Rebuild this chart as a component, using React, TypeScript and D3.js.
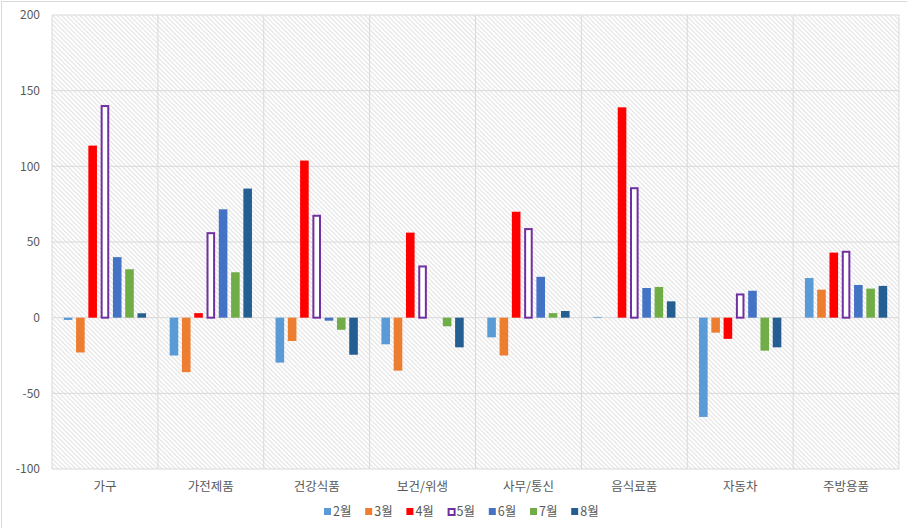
import React from "react";
import * as d3 from "d3";

const categories = ["가구", "가전제품", "건강식품", "보건/위생", "사무/통신", "음식료품", "자동차", "주방용품"];
const seriesNames = ["2월", "3월", "4월", "5월", "6월", "7월", "8월"];
const s2 = [-1.5, -25, -29.7, -17.6, -13, 0.5, -65.6, 26.2];
const s3 = [-23, -36, -15.4, -35, -25, 0, -9.9, 18.5];
const s4 = [113.7, 3, 103.8, 56.2, 70, 139, -14, 43];
const s5 = [140.5, 56.5, 68, 34.5, 59.2, 86.2, 16, 44.2];
const s6 = [40, 71.6, -2, 0, 27, 19.6, 17.8, 21.6];
const s7 = [32, 30, -8, -5.7, 3, 20.3, -21.8, 19.2];
const s8 = [2.9, 85.3, -24.5, -19.6, 4.4, 10.8, -19.6, 21];
const seriesValues = [s2, s3, s4, s5, s6, s7, s8];
const yTicks = [-100, -50, 0, 50, 100, 150, 200];
const colors = ["#5B9BD5", "#ED7D31", "#FF0000", "#7030A0", "#4472C4", "#70AD47", "#255E91"];

export default function App() {
  const W = 907, H = 528;
  const left = 52, right = 899, top = 15, bottom = 469;
  const y = d3.scaleLinear().domain([-100, 200]).range([bottom, top]);
  const x0 = d3.scaleBand().domain(categories).range([left, right]).padding(0);
  const x1 = d3.scaleBand().domain(seriesNames).range([0, x0.bandwidth()]).paddingInner(0.3).paddingOuter(0.96);
  const font = "'Noto Sans CJK KR', 'Noto Sans', sans-serif";
  const legendStep = 41.2;
  const legendX0 = 324;
  return (
    <svg width={W} height={H} style={{ position: "absolute", left: 0, top: 0 }}>
      <defs>
        <pattern id="hatch" width="3.2" height="3.2" patternUnits="userSpaceOnUse" patternTransform="rotate(-45)">
          <rect width="3.2" height="3.2" fill="#ffffff" />
          <line x1="0.6" y1="0" x2="0.6" y2="3.2" stroke="#e3e3e3" strokeWidth="1.1" />
        </pattern>
      </defs>
      <rect x={0} y={0} width={W} height={H} fill="#ffffff" />
      <rect x={1.5} y={1.5} width={W + 5} height={H + 5} fill="none" stroke="#d9d9d9" strokeWidth={1} />
      <rect x={left} y={top} width={right - left} height={bottom - top} fill="url(#hatch)" />
      {yTicks.map((t) => (
        <g key={t}>
          <line x1={left} x2={right} y1={y(t)} y2={y(t)} stroke="#d9d9d9" strokeWidth={1} />
          <text x={40} y={y(t)} dy="0.35em" textAnchor="end" fontSize={12} fill="#595959" fontFamily={font}>{t}</text>
        </g>
      ))}
      {categories.map((c) => (
        <line key={"v" + c} x1={x0(c)!} x2={x0(c)!} y1={top} y2={bottom} stroke="#d9d9d9" strokeWidth={1} />
      ))}
      <line x1={right} x2={right} y1={top} y2={bottom} stroke="#d9d9d9" strokeWidth={1} />
      {seriesValues.map((vals, si) =>
        vals.map((v, ci) => {
          const cx = x0(categories[ci])! + x1(seriesNames[si])!;
          const w = x1.bandwidth();
          const y0 = y(0);
          const yv = y(v);
          const ry = Math.min(y0, yv);
          const rh = Math.abs(y0 - yv);
          if (si === 3) {
            return (
              <rect key={si + "-" + ci} x={cx + 1} y={ry + 1} width={w - 2} height={Math.max(0, rh - 1)} fill="#ffffff" stroke={colors[si]} strokeWidth={2} />
            );
          }
          return <rect key={si + "-" + ci} x={cx} y={ry} width={w} height={rh} fill={colors[si]} />;
        })
      )}
      {categories.map((c) => (
        <text key={"l" + c} x={x0(c)! + x0.bandwidth() / 2} y={487} dy="0.35em" textAnchor="middle" fontSize={12.5} fill="#595959" fontFamily={font}>{c}</text>
      ))}
      {seriesNames.map((s, i) => {
        const lx = legendX0 + i * legendStep;
        return (
          <g key={"lg" + s}>
            {i === 3 ? (
              <rect x={lx + 1} y={509} width={6} height={6} fill="#ffffff" stroke={colors[i]} strokeWidth={2} />
            ) : (
              <rect x={lx} y={508} width={7} height={7} fill={colors[i]} />
            )}
            <text x={lx + 9} y={512} dy="0.35em" fontSize={12.5} fill="#595959" fontFamily={font}>{s}</text>
          </g>
        );
      })}
    </svg>
  );
}
